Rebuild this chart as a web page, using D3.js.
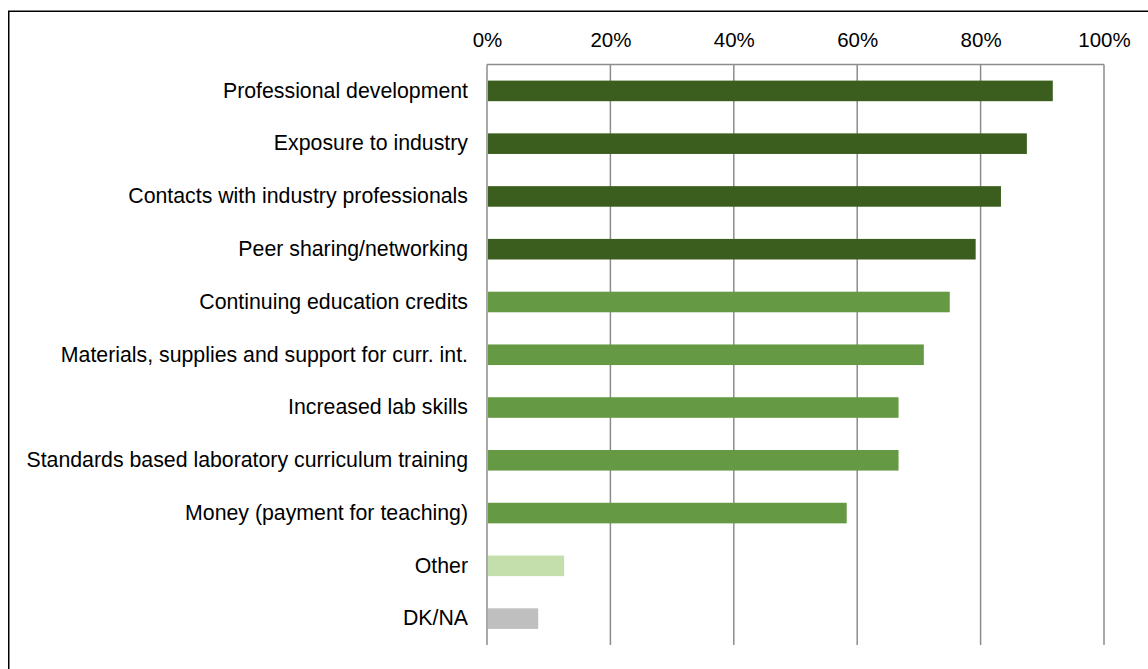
<!DOCTYPE html>
<html><head><meta charset="utf-8">
<script src="https://cdn.jsdelivr.net/npm/d3@7"></script>
<style>
html,body{margin:0;padding:0;background:#fff;}
svg{display:block;font-family:"Liberation Sans",Arial,sans-serif;}
</style></head>
<body>
<svg id="chart" width="1148" height="669"></svg>
<script>
const categories = [
  "Professional development",
  "Exposure to industry",
  "Contacts with industry professionals",
  "Peer sharing/networking",
  "Continuing education credits",
  "Materials, supplies and support for curr. int.",
  "Increased lab skills",
  "Standards based laboratory curriculum training",
  "Money (payment for teaching)",
  "Other",
  "DK/NA"
];
const values = [0.917, 0.875, 0.833, 0.792, 0.75, 0.708, 0.667, 0.667, 0.583, 0.125, 0.083];
const groups = ["top","top","top","top","mid","mid","mid","mid","mid","other","dk"];
const groupColors = {top:"#3B5E1E", mid:"#669944", other:"#C4DFAB", dk:"#BFBFBF"};
const tickValues = [0, 0.2, 0.4, 0.6, 0.8, 1.0];

const svg = d3.select("#chart");
// outer frame
svg.append("path")
  .attr("d", "M8.75,669 L8.75,11.25 L1148,11.25")
  .attr("fill","none").attr("stroke","#000").attr("stroke-width",1.5);

const x = d3.scaleLinear().domain([0,1]).range([487,1104]);
const y = d3.scaleBand().domain(categories).range([64.5,645]).paddingInner(0.61).paddingOuter(0.305);

// gridlines
svg.append("g").selectAll("line").data(tickValues).join("line")
  .attr("x1", d=>x(d)).attr("x2", d=>x(d))
  .attr("y1", 64.5).attr("y2", 645)
  .attr("stroke","#8C8C8C").attr("stroke-width",1.5);
// top line of plot
svg.append("line").attr("x1",x(0)).attr("x2",x(1)).attr("y1",64.5).attr("y2",64.5)
  .attr("stroke","#8C8C8C").attr("stroke-width",1.5);

// tick labels via axis
const xAxis = d3.axisTop(x).tickValues(tickValues).tickFormat(d3.format(".0%")).tickSize(0).tickPadding(0);
const ax = svg.append("g").attr("transform","translate(0,47)").call(xAxis);
ax.select(".domain").remove();
ax.attr("font-size",null).attr("font-family",null);
ax.selectAll("text").style("font-size","20.5px").attr("fill","#000").attr("dy",0);

// bars
svg.append("g").selectAll("rect").data(categories).join("rect")
  .attr("x", x(0)+1)
  .attr("y", d=>y(d))
  .attr("width", (d,i)=>x(values[i])-x(0)-1)
  .attr("height", y.bandwidth())
  .attr("fill", (d,i)=>groupColors[groups[i]]);

// category labels
const yAxis = d3.axisLeft(y).tickSize(0).tickPadding(19);
const ay = svg.append("g").attr("transform",`translate(${x(0)},0)`).call(yAxis);
ay.select(".domain").remove();
ay.attr("font-size",null).attr("font-family",null);
ay.selectAll("text").style("font-size","21.3px").attr("fill","#000");
</script>
</body></html>
